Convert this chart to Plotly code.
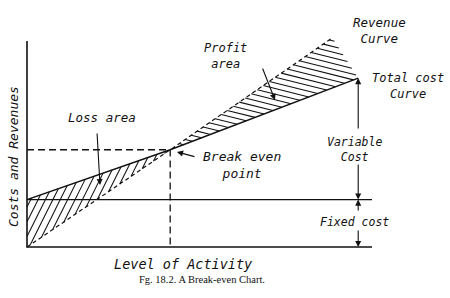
import plotly.graph_objects as go

# ---- data (activity units, money units) ----
activity_axis_end = 10.0
value_axis_end = 10.0
revenue_activity = [0.0, 4.15, 8.85]
revenue_value = [0.0, 4.72, 10.15]
total_cost_activity = [0.0, 4.15, 9.6]
total_cost_value = [2.3, 4.72, 8.2]
fixed_cost = 2.3
break_even_activity = 4.15
break_even_value = 4.72

# ---- pixel helpers for layout (figure spans whole plot area) ----
W, H = 450, 298
SX, SY = 34.5, 20.6
OX, OY = 27, 247


def px(x, y):
    return ((x - OX) / SX, (OY - y) / SY)


xr = [px(0, 0)[0], px(W, 0)[0]]
yr = [px(0, H)[1], px(0, 0)[1]]

BLACK = "#111111"
fig = go.Figure()


def seg_x(c, m, p, q):
    (x1, y1), (x2, y2) = p, q
    s = (y2 - y1) / (x2 - x1)
    x = (y1 - s * x1 - c) / (m - s)
    lo, hi = min(x1, x2) - 1e-9, max(x1, x2) + 1e-9
    return x if lo <= x <= hi else None


BE = (break_even_activity, break_even_value)
R0 = (revenue_activity[0], revenue_value[0])
R1 = (revenue_activity[-1], revenue_value[-1])
T0 = (total_cost_activity[0], total_cost_value[0])
T1 = (total_cost_activity[-1], total_cost_value[-1])

# loss-area hatching (steep "/")
hx, hy = [], []
k = 2.0 * SX / SY
c_lo = BE[1] - k * BE[0]
c_hi = fixed_cost
n = 16
for i in range(n):
    c = c_lo + (c_hi - c_lo) * (i + 0.5) / n
    if c >= 0:
        xs = 0.0
    else:
        xs = seg_x(c, k, R0, BE)
    xe = seg_x(c, k, T0, BE)
    if xs is None or xe is None:
        continue
    hx += [xs, xe, None]
    hy += [k * xs + c, k * xe + c, None]

# profit-area hatching (shallow, falling to the right)
m = -0.25 * SX / SY
c_lo = BE[1] - m * BE[0]
c_hi = R1[1] - m * R1[0]
n = 27
for i in range(n):
    c = c_lo + (c_hi - c_lo) * (i + 0.5) / n
    xs = seg_x(c, m, BE, R1)
    xe = seg_x(c, m, BE, T1)
    if xe is None:
        xe = seg_x(c, m, R1, T1)
    if xs is None or xe is None:
        continue
    hx += [xs, xe, None]
    hy += [m * xs + c, m * xe + c, None]

fig.add_trace(go.Scatter(x=hx, y=hy, mode="lines",
                         line=dict(color=BLACK, width=1.05), hoverinfo="skip"))

# axes
fig.add_trace(go.Scatter(x=[0, 0, activity_axis_end], y=[value_axis_end, 0, 0],
                         mode="lines", line=dict(color=BLACK, width=1.6)))
# fixed cost line
fig.add_trace(go.Scatter(x=[0, activity_axis_end], y=[fixed_cost, fixed_cost],
                         mode="lines", line=dict(color=BLACK, width=1.4)))
# total cost curve
fig.add_trace(go.Scatter(x=total_cost_activity, y=total_cost_value, mode="lines",
                         line=dict(color=BLACK, width=1.5)))
# revenue curve
fig.add_trace(go.Scatter(x=revenue_activity, y=revenue_value, mode="lines",
                         line=dict(color=BLACK, width=1.2, dash="4px,3px")))
# break-even guides
fig.add_trace(go.Scatter(x=[0, break_even_activity, break_even_activity],
                         y=[break_even_value, break_even_value, 0], mode="lines",
                         line=dict(color=BLACK, width=1.3, dash="7px,4px")))

ann = []
FONT = "DejaVu Sans Mono"


def label(text, cx, cy, size=12.5, family=FONT, style="italic", angle=0):
    x, y = px(cx, cy)
    ann.append(dict(x=x, y=y, xref="x", yref="y", text=text, showarrow=False,
                    textangle=angle, xanchor="center", yanchor="middle",
                    font=dict(family=family, size=size, color=BLACK, style=style)))


def arrow(tip, tail, width=1.1):
    x, y = tip
    ax, ay = tail
    ann.append(dict(x=x, y=y, ax=ax, ay=ay, xref="x", yref="y", axref="x", ayref="y",
                    text="", showarrow=True, arrowhead=2, arrowsize=1.1,
                    arrowwidth=width, arrowcolor=BLACK))


label("Revenue<br>Curve", 379, 30, size=12.5)
label("Profit<br>area", 225, 56, size=12)
label("Total cost<br>Curve", 408, 86, size=12)
label("Loss area", 102, 117, size=12.5)
label("Break even<br>point", 242, 165, size=13)
label("Variable<br>Cost", 354, 149, size=11.5)
label("Fixed cost", 354, 222, size=11.5)
label("Level of Activity", 183, 264, size=13.5)
label("Costs and Revenues", 13, 157, size=13, angle=-90)
label("Fg. 18.2. A Break-even Chart.", 202, 279, size=10.5,
      family="Liberation Serif", style="normal")

vx = T1[0]
arrow((vx, T1[1]), (vx, px(0, 130)[1]))
arrow((vx, fixed_cost), (vx, px(0, 163)[1]))
arrow((vx, fixed_cost), (vx, px(0, 212)[1]))
arrow((vx, 0), (vx, px(0, 229)[1]))
arrow(px(100, 185), px(97, 132))
arrow(px(275, 100), px(262, 67))
arrow(px(177, 152), px(196, 157))

fig.update_layout(
    width=W, height=H, margin=dict(l=0, r=0, t=0, b=0),
    paper_bgcolor="white", plot_bgcolor="white", showlegend=False,
    xaxis=dict(range=xr, visible=False, fixedrange=True),
    yaxis=dict(range=yr, visible=False, fixedrange=True),
    annotations=ann,
)
fig.write_html("out.html")
